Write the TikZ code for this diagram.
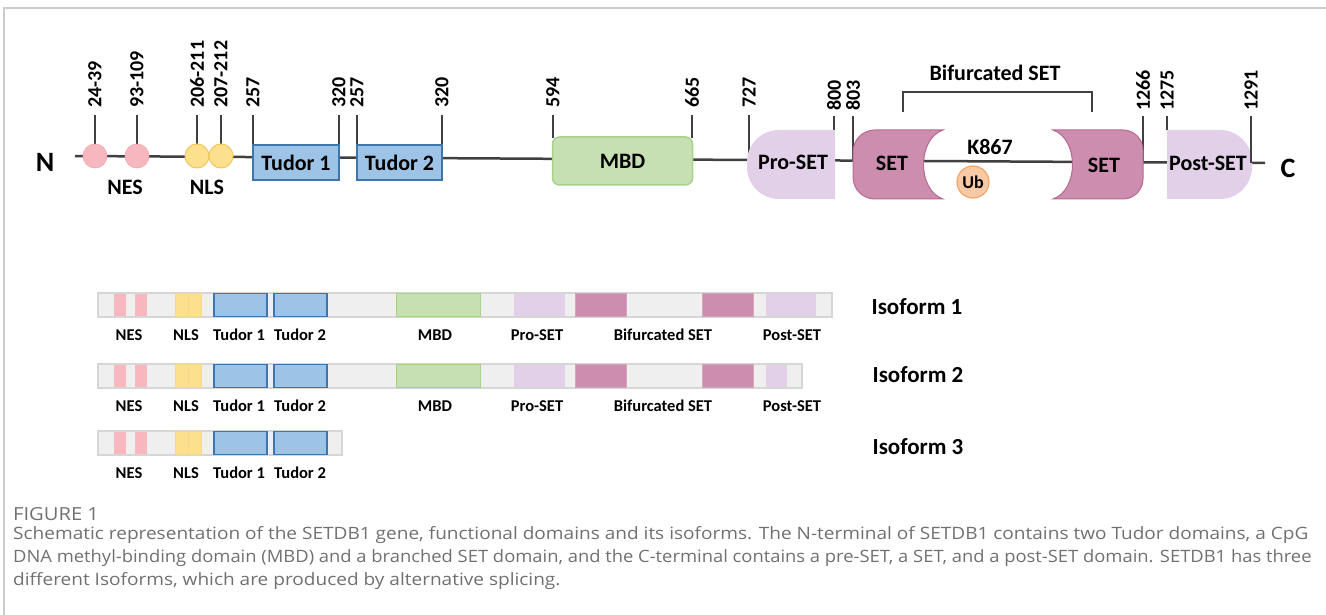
\documentclass[tikz,border=0pt]{standalone}
\usepackage{fontspec}
\usepackage{graphicx}
\setmainfont{Carlito}
\newfontfamily\captfont[FakeStretch=1.12]{Open Sans}
\definecolor{bb}{HTML}{404040}
\definecolor{nesc}{HTML}{F7B7BE}
\definecolor{nesb}{HTML}{F2A4AE}
\definecolor{nlsc}{HTML}{FCE08E}
\definecolor{nlsb}{HTML}{F0C85E}
\definecolor{tudc}{HTML}{9DC3E6}
\definecolor{tudb}{HTML}{3F75AD}
\definecolor{mbdc}{HTML}{C6E0B4}
\definecolor{mbdb}{HTML}{A8D28A}
\definecolor{lav}{HTML}{E2CFE8}
\definecolor{setc}{HTML}{CD8DAF}
\definecolor{setb}{HTML}{B66A90}
\definecolor{ubc}{HTML}{F9C9A5}
\definecolor{ubb}{HTML}{F0A56A}
\definecolor{barc}{HTML}{EFEFEF}
\definecolor{barb}{HTML}{D6D6D6}
\definecolor{capc}{HTML}{707070}
\definecolor{framec}{HTML}{CCCCCC}
\begin{document}
\begin{tikzpicture}[x=1pt,y=-1pt,
  tickln/.style={draw=bb,line width=1.5},
  numlab/.style={rotate=90,anchor=west,inner sep=0,font=\bfseries\fontsize{20}{20}\selectfont},
  lab/.style={inner sep=0,font=\bfseries\fontsize{22}{22}\selectfont},
  endlab/.style={inner sep=0,font=\bfseries\fontsize{28}{28}\selectfont},
  isolab/.style={inner sep=0,font=\bfseries\fontsize{16.5}{16.5}\selectfont},
  isoname/.style={inner sep=0,font=\bfseries\fontsize{23}{23}\selectfont},
  bar/.style={fill=barc,draw=barb,line width=1.5},
  seg/.style={line width=1},
  capt/.style={inner sep=0,anchor=west,text=capc,font=\captfont\fontsize{17}{17}\selectfont}]
\useasboundingbox (0,0) rectangle (1326,615);
% frame
\draw[framec,line width=1.5] (4,615) -- (4,8) -- (1326,8);

% ---------- protein backbone ----------
\coordinate (bbL) at (75,156);
\coordinate (bbR) at (1265,163);
\draw[bb,line width=2.5] (bbL) -- (bbR);
\node[endlab] (nterm) at (45,162) {N};
\node[endlab] (cterm) at (1288,168) {C};

% position ticks and numbers
\foreach \x/\yb/\lab in {95/144/24-39,137/144/93-109,197/144/206-211,221/144/207-212,
  253/145/257,339/145/320,357/145/257,442/145/320,553/138/594,692/138/665,749/160/727}{
  \draw[tickln] (\x,115) -- (\x,\yb);
  \node[numlab] (p\x) at (\x,108) {\lab};
}
\foreach \x/\yb/\lab in {834/130/800,853/161/803,1143/162/1266,1167/130/1275,1251/163/1291}{
  \draw[tickln] (\x,116) -- (\x,\yb);
  \node[numlab] (p\x) at (\x,111) {\lab};
}

% NES and NLS motifs
\node[circle,fill=nesc,draw=nesb,line width=0.6,minimum size=24,inner sep=0] (nes1) at (95,156) {};
\node[circle,fill=nesc,draw=nesb,line width=0.6,minimum size=24,inner sep=0] (nes2) at (137,156) {};
\node[circle,fill=nlsc,draw=nlsb,line width=1,minimum size=24,inner sep=0] (nls1) at (197,156) {};
\node[circle,fill=nlsc,draw=nlsb,line width=1,minimum size=24,inner sep=0] (nls2) at (221,156) {};
\node[lab] (neslab) at (125,187) {NES};
\node[lab] (nlslab) at (207,187) {NLS};

% Tudor domains
\node[draw=tudb,fill=tudc,line width=1.2,minimum width=86,minimum height=35,inner sep=0,
  font=\bfseries\fontsize{22}{22}\selectfont] (tud1) at (296,162.5) {Tudor 1};
\node[draw=tudb,fill=tudc,line width=1.2,minimum width=85,minimum height=35,inner sep=0,
  font=\bfseries\fontsize{22}{22}\selectfont] (tud2) at (399.5,162.5) {Tudor 2};

% MBD
\node[draw=mbdb,fill=mbdc,line width=1.5,rounded corners=7,minimum width=140,minimum height=48,inner sep=0,
  font=\bfseries\fontsize{22}{22}\selectfont] (mbd) at (622.5,161) {MBD};

% Pro-SET (rounded on the left)
\path[fill=lav] (835,130) -- (779,130) .. controls (761.3,130) and (747,144.3) .. (747,162)
  -- (747,167) .. controls (747,184.7) and (761.3,199) .. (779,199) -- (835,199) -- cycle;
\node[lab] (proset) at (793,162) {Pro-SET};

% split SET domain
\path[fill=setc,draw=setb,line width=1] (943,130) -- (875,130)
  .. controls (862.8,130) and (853,139.8) .. (853,152) -- (853,177)
  .. controls (853,189.2) and (862.8,199) .. (875,199) -- (943,199)
  .. controls (917,190) and (917,139) .. (943,130) -- cycle;
\path[fill=setc,draw=setb,line width=1] (1053,130) .. controls (1079,139) and (1079,190) .. (1053,199)
  -- (1123,199) .. controls (1134,199) and (1143,190) .. (1143,179) -- (1143,150)
  .. controls (1143,139) and (1134,130) .. (1123,130) -- cycle;
\node[lab] (set1) at (892,163) {SET};
\node[lab] (set2) at (1104,165) {SET};
\node[lab] (k867) at (990,147) {K867};
\node[circle,fill=ubc,draw=ubb,line width=1.2,minimum size=32,inner sep=0,
  font=\bfseries\fontsize{18}{18}\selectfont] (ub) at (973,182) {Ub};

% bracket over the bifurcated SET
\coordinate (brL) at (903,112);
\coordinate (brR) at (1092,112);
\draw[bb,line width=1.5] (brL) -- (903,92) -- (1092,92) -- (brR);
\node[lab] (bifset) at (995,73) {Bifurcated SET};

% Post-SET (rounded on the right)
\path[fill=lav] (1167,130) -- (1220,130) .. controls (1237.7,130) and (1252,144.3) .. (1252,162)
  -- (1252,167) .. controls (1252,184.7) and (1237.7,199) .. (1220,199) -- (1167,199) -- cycle;
\draw[tickln] (1251,116) -- (1251,163);
\node[lab] (postset) at (1208,163) {Post-SET};

% ---------- isoforms ----------
% isoform bars: top y, bottom y, right end, end of Post-SET
\foreach \i/\yt/\ybt/\xe/\pse in {1/293/317/832/816,2/364/388/802/787,3/431/455/342/0}{
  \draw[bar] (98,\yt) rectangle (\xe,\ybt);
  \fill[nesc] (114,\yt+0.75) rectangle (126,\ybt-0.75);
  \fill[nesc] (135,\yt+0.75) rectangle (147,\ybt-0.75);
  \draw[seg,fill=nlsc,draw=nlsb!70] (175,\yt+0.75) rectangle (188,\ybt-0.75);
  \draw[seg,fill=nlsc,draw=nlsb!70] (188,\yt+0.75) rectangle (201,\ybt-0.75);
  \draw[seg,fill=tudc,draw=tudb,line width=1.2] (214,\yt+0.75) rectangle (267,\ybt-0.75);
  \draw[seg,fill=tudc,draw=tudb,line width=1.2] (274,\yt+0.75) rectangle (327,\ybt-0.75);
  \ifnum\i<3
    \draw[seg,fill=mbdc,draw=mbdb] (396,\yt+0.75) rectangle (480,\ybt-0.75);
    \fill[lav] (514,\yt+0.75) rectangle (565,\ybt-0.75);
    \draw[seg,fill=setc,draw=setb!60] (575,\yt+0.75) rectangle (626,\ybt-0.75);
    \draw[seg,fill=setc,draw=setb!60] (702,\yt+0.75) rectangle (753,\ybt-0.75);
    \fill[lav] (766,\yt+0.75) rectangle (\pse,\ybt-0.75);
  \fi
}
% isoform labels
\foreach \i/\y in {1/335,2/406,3/473}{
  \node[isolab] (nes\i) at (129,\y) {NES};
  \node[isolab] (nls\i) at (186,\y) {NLS};
  \node[isolab] (tudA\i) at (239,\y) {Tudor 1};
  \node[isolab] (tudB\i) at (300,\y) {Tudor 2};
}
\foreach \i/\y in {1/335,2/406}{
  \node[isolab] (mbd\i) at (435,\y) {MBD};
  \node[isolab] (pro\i) at (537,\y) {Pro-SET};
  \node[isolab] (bif\i) at (663,\y) {Bifurcated SET};
  \node[isolab] (post\i) at (792,\y) {Post-SET};
}
\node[isoname] (iso1) at (917,307) {Isoform 1};
\node[isoname] (iso2) at (918,375) {Isoform 2};
\node[isoname] (iso3) at (918,447) {Isoform 3};

% ---------- caption ----------
\node[capt,font=\captfont\fontsize{18}{18}\selectfont] (fig) at (13,514) {FIGURE 1};
\node[capt] (c1) at (13,535) {Schematic representation of the SETDB1 gene, functional domains and its isoforms. The N-terminal of SETDB1 contains two Tudor domains, a CpG};
\node[capt] (c2) at (13,558) {\scalebox{0.965}[1]{DNA methyl-binding domain (MBD) and a branched SET domain, and the C-terminal contains a pre-SET, a SET, and a post-SET domain. SETDB1 has three}};
\node[capt] (c3) at (13,581) {different Isoforms, which are produced by alternative splicing.};
\end{tikzpicture}
\end{document}
